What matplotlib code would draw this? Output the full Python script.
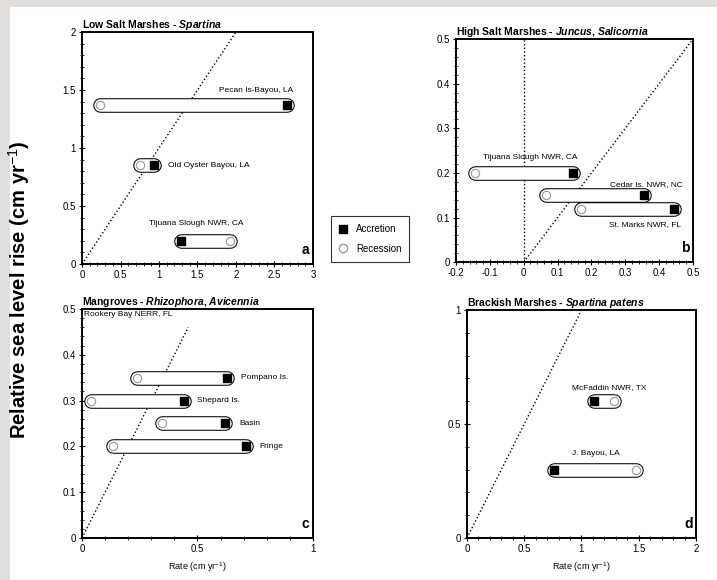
import numpy as np
import matplotlib
matplotlib.use("Agg")
import matplotlib.pyplot as plt
from matplotlib.ticker import MultipleLocator
from matplotlib.lines import Line2D
from matplotlib.patches import Rectangle

plt.rcParams['font.family'] = ['Liberation Sans', 'DejaVu Sans']
plt.rcParams['mathtext.fontset'] = 'custom'
plt.rcParams['mathtext.rm'] = 'Liberation Sans'
plt.rcParams['mathtext.it'] = 'Liberation Sans:italic:bold'
plt.rcParams['mathtext.bf'] = 'Liberation Sans:bold'

# data: rate (cm/yr) of recession and accretion at each site, and sea level rise
a_sites = ["Pecan Is-Bayou, LA", "Old Oyster Bayou, LA", "Tijuana Slough NWR, CA"]
a_slr = [1.37, 0.85, 0.20]
a_recession = [0.23, 0.75, 1.92]
a_accretion = [2.66, 0.93, 1.29]

b_sites = ["Tijuana Slough NWR, CA", "Cedar Is. NWR, NC", "St. Marks NWR, FL"]
b_slr = [0.20, 0.15, 0.12]
b_recession = [-0.145, 0.065, 0.168]
b_accretion = [0.145, 0.356, 0.444]

c_sites = ["Pompano Is.", "Shepard Is.", "Basin", "Fringe"]
c_slr = [0.35, 0.30, 0.25, 0.20]
c_recession = [0.24, 0.04, 0.345, 0.135]
c_accretion = [0.63, 0.44, 0.62, 0.71]

d_sites = ["McFaddin NWR, TX", "J. Bayou, LA"]
d_slr = [0.60, 0.30]
d_recession = [1.28, 1.48]
d_accretion = [1.11, 0.76]

fig = plt.figure(figsize=(7.17, 5.8), dpi=100, facecolor='#e2dfdb')
fig.patches.append(Rectangle((10/717, 0), 1, 1 - 7/580, transform=fig.transFigure,
                             facecolor='white', edgecolor='none', zorder=-10))

ax_a = fig.add_axes([0.1144, 0.5448, 0.322, 0.40])
ax_b = fig.add_axes([0.636, 0.548, 0.3305, 0.3845])
ax_c = fig.add_axes([0.1144, 0.0724, 0.322, 0.395])
ax_d = fig.add_axes([0.6513, 0.0724, 0.3194, 0.393])


def capsules(ax, slr, rec, acc):
    for y, r, c in zip(slr, rec, acc):
        x0, x1 = min(r, c), max(r, c)
        ax.plot([x0, x1], [y, y], color='black', lw=10.5, solid_capstyle='round', zorder=3)
        ax.plot([x0, x1], [y, y], color='white', lw=9.0, solid_capstyle='round', zorder=4)
    ax.plot(acc, slr, 's', color='black', ms=6, zorder=6, ls='none')
    ax.plot(rec, slr, 'o', mfc='white', mec='#999999', ms=6, mew=0.8, zorder=6, ls='none')


def style(ax, xlim, ylim, xmaj, xmin, ymaj, ymin, letter):
    ax.set_xlim(*xlim)
    ax.set_ylim(*ylim)
    ax.xaxis.set_major_locator(MultipleLocator(xmaj))
    ax.xaxis.set_minor_locator(MultipleLocator(xmin))
    ax.yaxis.set_major_locator(MultipleLocator(ymaj))
    ax.yaxis.set_minor_locator(MultipleLocator(ymin))
    ax.tick_params(which='major', direction='inout', length=5, labelsize=7,
                   top=False, right=False, pad=2)
    ax.tick_params(which='minor', direction='inout', length=2.5, top=False, right=False)
    for s in ax.spines.values():
        s.set_linewidth(1.4)
    ax.text(0.985, 0.03, letter, transform=ax.transAxes, ha='right', va='bottom',
            fontsize=10, fontweight='bold')


def fmt(v, pos):
    return '%g' % v


# panel a
ax_a.plot([0, 2], [0, 2], ls=':', color='black', lw=1)
capsules(ax_a, a_slr, a_recession, a_accretion)
style(ax_a, (0, 3), (0, 2), 0.5, 0.1, 0.5, 0.1, 'a')
ax_a.text(2.74, 1.5, a_sites[0], ha='right', va='center', fontsize=6)
ax_a.text(1.12, 0.85, a_sites[1], ha='left', va='center', fontsize=6)
ax_a.text(1.49, 0.345, a_sites[2], ha='center', va='center', fontsize=6)
ax_a.set_title("Low Salt Marshes - $\\it{Spartina}$", loc='left', fontsize=7.5,
               fontweight='bold', pad=2)

# panel b
ax_b.plot([0, 0.5], [0, 0.5], ls=':', color='black', lw=1)
ax_b.axvline(0, ls=':', color='black', lw=1)
capsules(ax_b, b_slr, b_recession, b_accretion)
style(ax_b, (-0.2, 0.5), (0, 0.5), 0.1, 0.02, 0.1, 0.02, 'b')
ax_b.text(0.018, 0.235, b_sites[0], ha='center', va='center', fontsize=6)
ax_b.text(0.47, 0.175, b_sites[1], ha='right', va='center', fontsize=6)
ax_b.text(0.465, 0.085, b_sites[2], ha='right', va='center', fontsize=6)
ax_b.set_title("High Salt Marshes - $\\it{Juncus}$, $\\it{Salicornia}$", loc='left',
               fontsize=7.5, fontweight='bold', pad=2)

# panel c
ax_c.plot([0, 0.46], [0, 0.46], ls=':', color='black', lw=1)
capsules(ax_c, c_slr, c_recession, c_accretion)
style(ax_c, (0, 1), (0, 0.5), 0.5, 0.1, 0.1, 0.02, 'c')
for name, y, r, acc in zip(c_sites, c_slr, c_recession, c_accretion):
    ax_c.text(max(r, acc) + 0.06, y, name, ha='left', va='center', fontsize=6)
ax_c.text(0.01, 0.495, "Rookery Bay NERR, FL", ha='left', va='top', fontsize=6)
ax_c.set_title("Mangroves - $\\it{Rhizophora}$, $\\it{Avicennia}$", loc='left',
               fontsize=7.5, fontweight='bold', pad=2)
ax_c.set_xlabel("Rate (cm yr$^{-1}$)", fontsize=6.5, labelpad=4)

# panel d
ax_d.plot([0, 1], [0, 1], ls=':', color='black', lw=1)
capsules(ax_d, d_slr, d_recession, d_accretion)
style(ax_d, (0, 2), (0, 1), 0.5, 0.1, 0.5, 0.1, 'd')
ax_d.text(1.245, 0.66, d_sites[0], ha='center', va='center', fontsize=6)
ax_d.text(1.13, 0.37, d_sites[1], ha='center', va='center', fontsize=6)
ax_d.set_title("Brackish Marshes - $\\it{Spartina\\ patens}$", loc='left', fontsize=7.5,
               fontweight='bold', pad=2)
ax_d.set_xlabel("Rate (cm yr$^{-1}$)", fontsize=6.5, labelpad=4)

for ax in (ax_a, ax_b, ax_c, ax_d):
    ax.xaxis.set_major_formatter(plt.FuncFormatter(fmt))
    ax.yaxis.set_major_formatter(plt.FuncFormatter(fmt))

fig.text(19/717, 1 - 290/580, "Relative sea level rise (cm yr$^{-1}$)", rotation=90,
         ha='center', va='center', fontsize=14.5, fontweight='bold')

handles = [Line2D([], [], marker='s', color='black', ls='none', ms=6),
           Line2D([], [], marker='o', mfc='white', mec='#999999', ls='none', ms=6)]
leg = fig.legend(handles, ["Accretion", "Recession"], loc='center',
                 bbox_to_anchor=(370/717, 1 - 239/580), fontsize=7, frameon=True,
                 fancybox=False, edgecolor='black', handlelength=1, borderpad=0.8,
                 labelspacing=1.0)
leg.get_frame().set_linewidth(0.8)

fig.savefig("out.png", dpi=100, facecolor=fig.get_facecolor())
